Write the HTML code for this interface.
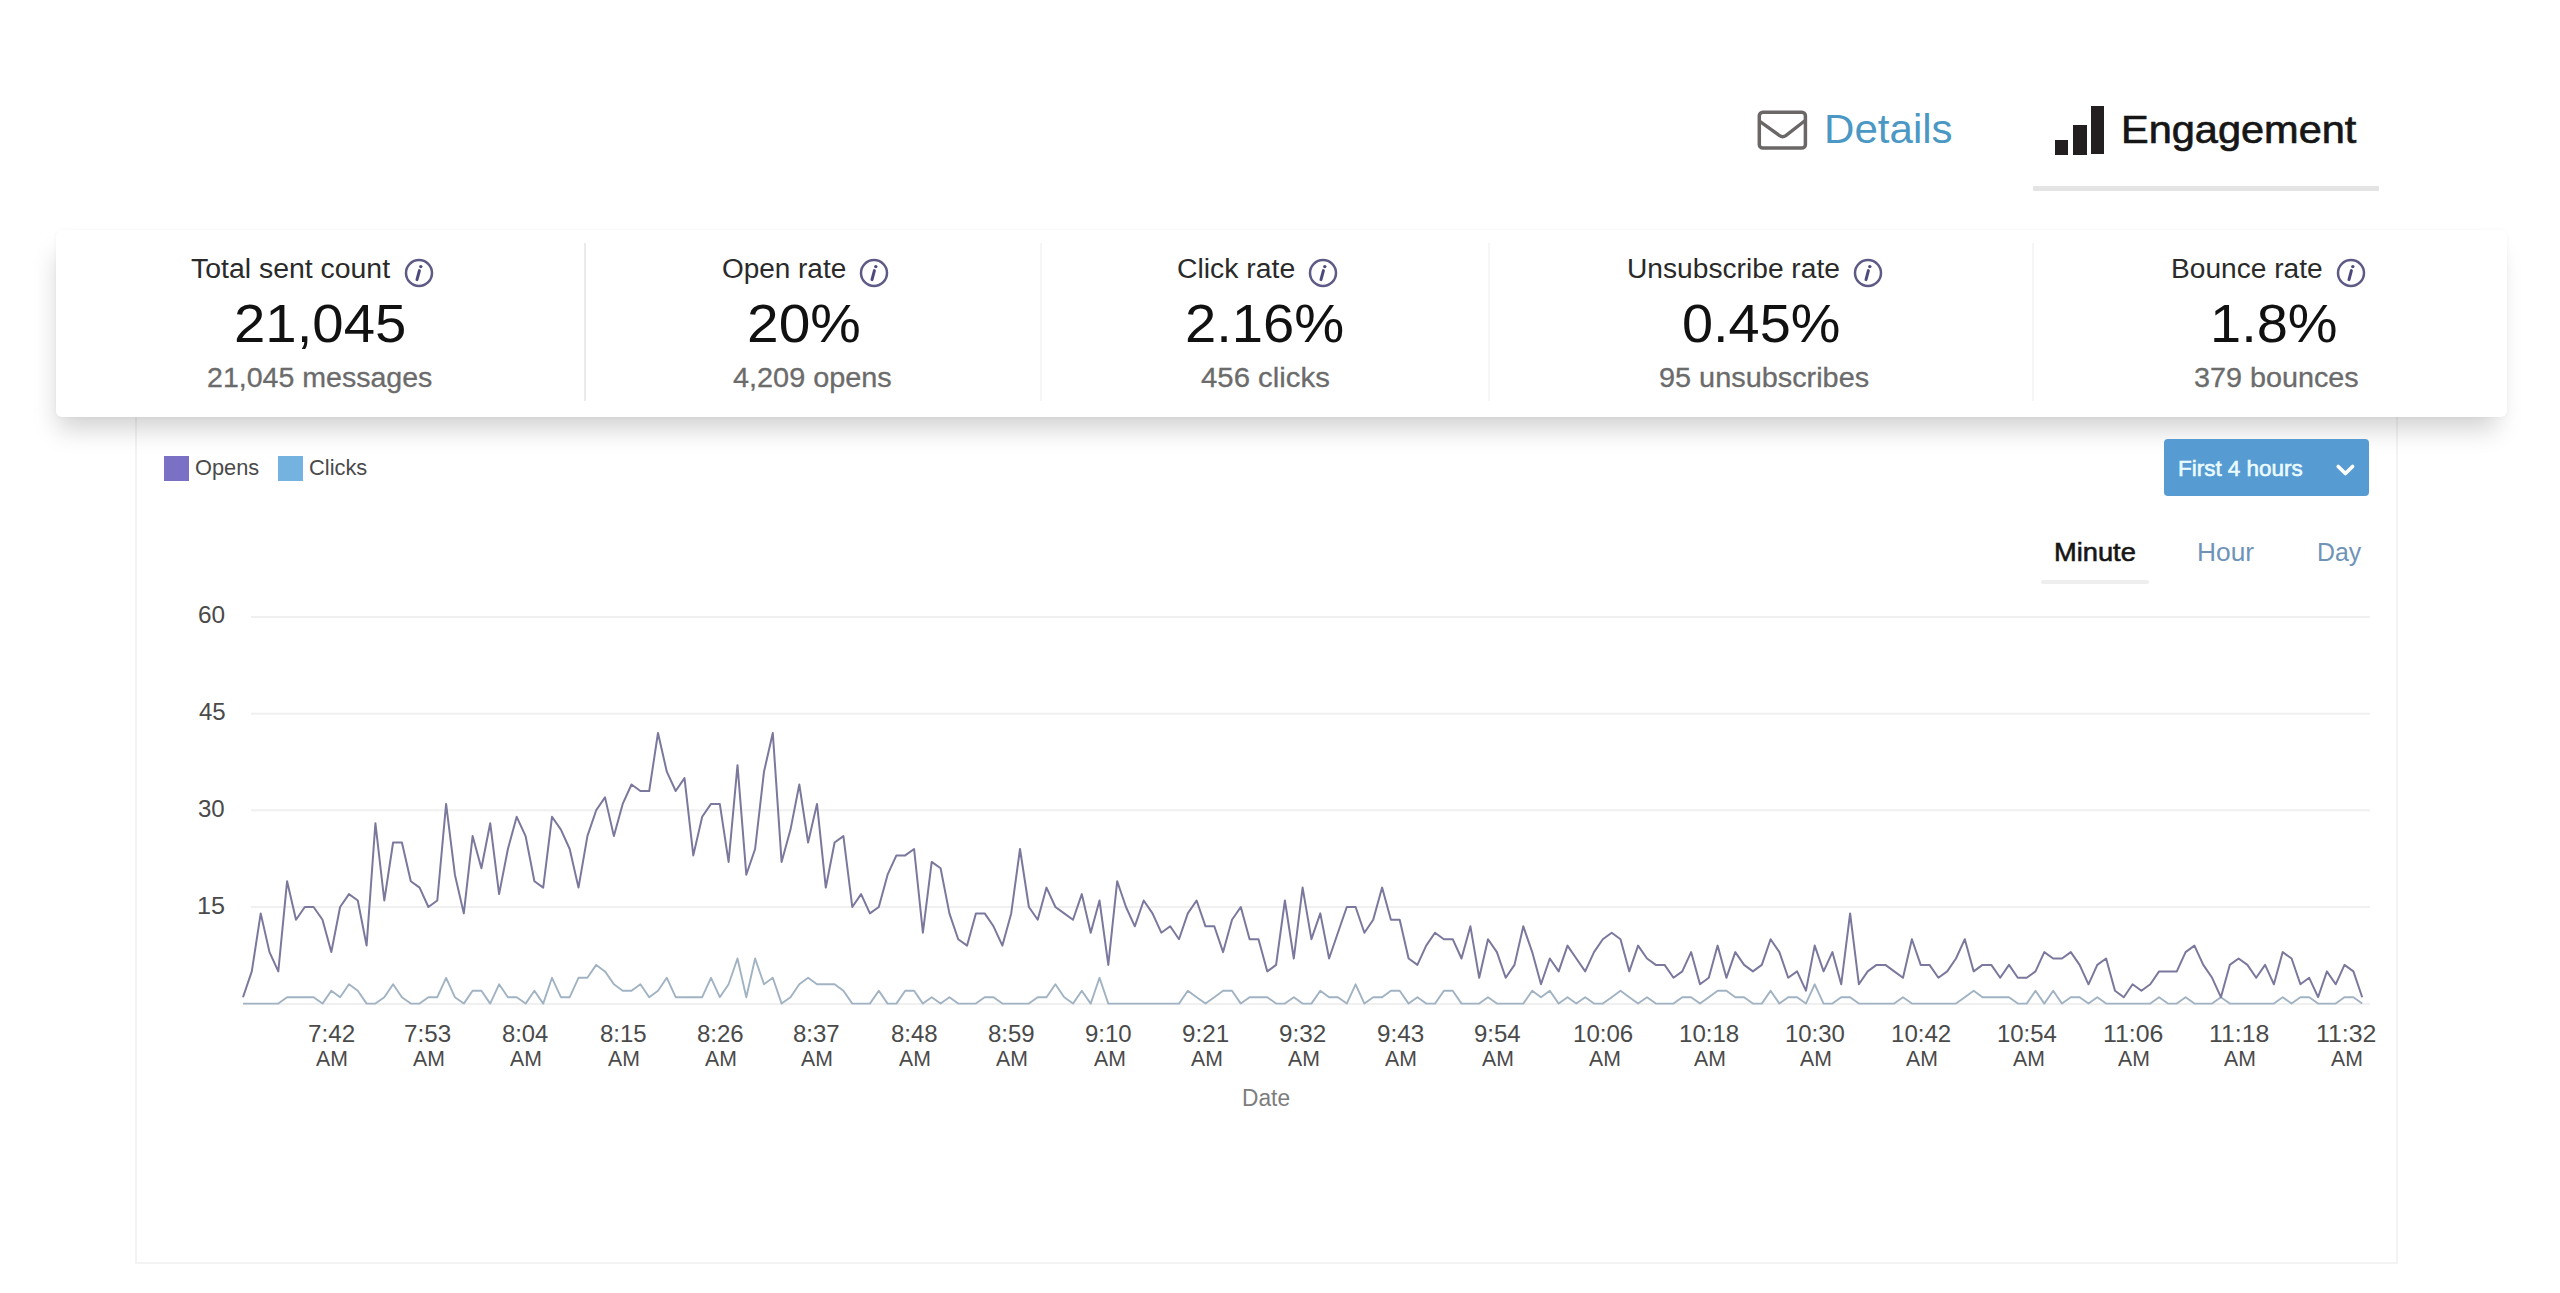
<!DOCTYPE html>
<html><head><meta charset="utf-8"><title>Engagement</title>
<style>
html,body{margin:0;padding:0;background:#fff;}
body{width:2560px;height:1293px;position:relative;overflow:hidden;font-family:"Liberation Sans",sans-serif;}
.tx{position:absolute;white-space:nowrap;transform-origin:0 0;font-family:"Liberation Sans",sans-serif;}
.abs{position:absolute;}
.panel{position:absolute;left:135px;top:380px;width:2259px;height:881.5px;border:2px solid #f3f3f3;border-top:none;background:#fff;box-sizing:content-box;}
.card{position:absolute;left:56px;top:230px;width:2451px;height:186.5px;background:#fff;border-radius:6px;box-shadow:-4px 18px 24px -6px rgba(0,0,0,0.18),0 0 5px rgba(0,0,0,0.04);}
.div{position:absolute;top:243px;width:2px;height:158px;background:#ececec;}
.sq{position:absolute;width:25px;height:25px;top:455.5px;}
.btn{position:absolute;left:2164px;top:439px;width:205px;height:57px;background:#579bd3;border-radius:4px;}
.chart{position:absolute;left:0;top:0;}

</style></head><body>
<div class="panel"></div>
<div class="card"></div>
<div class="div" style="left:583.5px;background:#ebebed"></div>
<div class="div" style="left:1040px;background:#f5f5f6"></div>
<div class="div" style="left:1488px;background:#f6f6f6"></div>
<div class="div" style="left:2032px;background:#f5f5f5"></div>
<!-- tabs -->
<svg class="abs" style="left:1750px;top:100px" width="70" height="60" viewBox="0 0 70 60">
<rect x="9.3" y="12.2" width="46.1" height="35.9" rx="3.6" fill="none" stroke="#6b6767" stroke-width="3.5"/>
<path d="M10.5 21.8 L29.6 35.6 Q32.7 37.8 35.8 35.6 L54.5 21" fill="none" stroke="#6b6767" stroke-width="3.3" stroke-linejoin="round" stroke-linecap="round"/>
</svg>
<div class="abs" style="left:2054.5px;top:140px;width:13.5px;height:14.5px;background:#231f20"></div>
<div class="abs" style="left:2072.5px;top:124.5px;width:14.5px;height:30px;background:#231f20"></div>
<div class="abs" style="left:2090.8px;top:106.3px;width:13.5px;height:48.2px;background:#231f20"></div>
<div class="abs" style="left:2033px;top:186px;width:346px;height:5px;background:#e4e4e4;border-radius:1px"></div>
<!-- info icons -->
<svg class="abs" style="left:402.9px;top:257px" width="32" height="32" viewBox="-16 -16 32 32"><circle cx="0" cy="0" r="13" fill="none" stroke="#5d5b85" stroke-width="2.5"/><circle cx="1.8" cy="-6.4" r="1.7" fill="#4c4a7c"/><path d="M0.4 -2.4 L-2 6.6" stroke="#4c4a7c" stroke-width="3" stroke-linecap="round" fill="none"/></svg>
<svg class="abs" style="left:858.4px;top:257px" width="32" height="32" viewBox="-16 -16 32 32"><circle cx="0" cy="0" r="13" fill="none" stroke="#5d5b85" stroke-width="2.5"/><circle cx="1.8" cy="-6.4" r="1.7" fill="#4c4a7c"/><path d="M0.4 -2.4 L-2 6.6" stroke="#4c4a7c" stroke-width="3" stroke-linecap="round" fill="none"/></svg>
<svg class="abs" style="left:1306.6px;top:257px" width="32" height="32" viewBox="-16 -16 32 32"><circle cx="0" cy="0" r="13" fill="none" stroke="#5d5b85" stroke-width="2.5"/><circle cx="1.8" cy="-6.4" r="1.7" fill="#4c4a7c"/><path d="M0.4 -2.4 L-2 6.6" stroke="#4c4a7c" stroke-width="3" stroke-linecap="round" fill="none"/></svg>
<svg class="abs" style="left:1851.5px;top:257px" width="32" height="32" viewBox="-16 -16 32 32"><circle cx="0" cy="0" r="13" fill="none" stroke="#5d5b85" stroke-width="2.5"/><circle cx="1.8" cy="-6.4" r="1.7" fill="#4c4a7c"/><path d="M0.4 -2.4 L-2 6.6" stroke="#4c4a7c" stroke-width="3" stroke-linecap="round" fill="none"/></svg>
<svg class="abs" style="left:2334.6px;top:257px" width="32" height="32" viewBox="-16 -16 32 32"><circle cx="0" cy="0" r="13" fill="none" stroke="#5d5b85" stroke-width="2.5"/><circle cx="1.8" cy="-6.4" r="1.7" fill="#4c4a7c"/><path d="M0.4 -2.4 L-2 6.6" stroke="#4c4a7c" stroke-width="3" stroke-linecap="round" fill="none"/></svg>
<!-- legend -->
<div class="sq" style="left:163.5px;background:#7a71c4"></div>
<div class="sq" style="left:278px;background:#74b3e0"></div>
<!-- button -->
<div class="btn"></div>
<svg class="abs" style="left:2330px;top:455px" width="30" height="30" viewBox="0 0 30 30"><path d="M8.2 11.4 L15.4 18.6 L22.6 11.4" fill="none" stroke="#fff" stroke-width="3.6" stroke-linecap="round" stroke-linejoin="round"/></svg>
<div class="abs" style="left:2041px;top:579.5px;width:108px;height:4px;background:#eeeeee;border-radius:2px"></div>
<svg class="chart" width="2560" height="1293" viewBox="0 0 2560 1293">
<g stroke="#f0f0f0" stroke-width="2" fill="none">
<line x1="251" x2="2370" y1="617" y2="617"/><line x1="251" x2="2370" y1="713.7" y2="713.7"/><line x1="251" x2="2370" y1="810.3" y2="810.3"/><line x1="251" x2="2370" y1="907" y2="907"/><line x1="243" x2="2370" y1="1004" y2="1004"/>
</g>
<polyline points="243.0,1003.6 251.8,1003.6 260.7,1003.6 269.5,1003.6 278.3,1003.6 287.1,997.2 296.0,997.2 304.8,997.2 313.6,997.2 322.5,1003.6 331.3,990.7 340.1,997.2 349.0,984.3 357.8,990.7 366.6,1003.6 375.4,1003.6 384.3,997.2 393.1,984.3 401.9,997.2 410.8,1003.6 419.6,1003.6 428.4,997.2 437.3,997.2 446.1,977.8 454.9,997.2 463.8,1003.6 472.6,990.7 481.4,990.7 490.2,1003.6 499.1,984.3 507.9,997.2 516.7,997.2 525.6,1003.6 534.4,990.7 543.2,1003.6 552.0,977.8 560.9,997.2 569.7,997.2 578.5,977.8 587.4,977.8 596.2,964.9 605.0,971.4 613.9,984.3 622.7,990.7 631.5,990.7 640.4,984.3 649.2,997.2 658.0,990.7 666.8,977.8 675.7,997.2 684.5,997.2 693.3,997.2 702.2,997.2 711.0,977.8 719.8,997.2 728.6,984.3 737.5,958.5 746.3,997.2 755.1,958.5 764.0,984.3 772.8,977.8 781.6,1003.6 790.5,997.2 799.3,984.3 808.1,977.8 817.0,984.3 825.8,984.3 834.6,984.3 843.4,990.7 852.3,1003.6 861.1,1003.6 869.9,1003.6 878.8,990.7 887.6,1003.6 896.4,1003.6 905.2,990.7 914.1,990.7 922.9,1003.6 931.7,997.2 940.6,1003.6 949.4,997.2 958.2,1003.6 967.1,1003.6 975.9,1003.6 984.7,997.2 993.5,997.2 1002.4,1003.6 1011.2,1003.6 1020.0,1003.6 1028.9,1003.6 1037.7,997.2 1046.5,997.2 1055.4,984.3 1064.2,997.2 1073.0,1003.6 1081.8,990.7 1090.7,1003.6 1099.5,977.8 1108.3,1003.6 1117.2,1003.6 1126.0,1003.6 1134.8,1003.6 1143.7,1003.6 1152.5,1003.6 1161.3,1003.6 1170.2,1003.6 1179.0,1003.6 1187.8,990.7 1196.6,997.2 1205.5,1003.6 1214.3,997.2 1223.1,990.7 1232.0,990.7 1240.8,1003.6 1249.6,997.2 1258.5,997.2 1267.3,997.2 1276.1,1003.6 1284.9,1003.6 1293.8,997.2 1302.6,1003.6 1311.4,1003.6 1320.3,990.7 1329.1,997.2 1337.9,997.2 1346.8,1003.6 1355.6,984.3 1364.4,1003.6 1373.2,997.2 1382.1,997.2 1390.9,990.7 1399.7,990.7 1408.6,1003.6 1417.4,997.2 1426.2,1003.6 1435.0,1003.6 1443.9,990.7 1452.7,990.7 1461.5,1003.6 1470.4,1003.6 1479.2,1003.6 1488.0,997.2 1496.9,1003.6 1505.7,1003.6 1514.5,1003.6 1523.3,1003.6 1532.2,990.7 1541.0,997.2 1549.8,990.7 1558.7,1003.6 1567.5,997.2 1576.3,1003.6 1585.2,997.2 1594.0,1003.6 1602.8,1003.6 1611.7,997.2 1620.5,990.7 1629.3,997.2 1638.1,1003.6 1647.0,997.2 1655.8,1003.6 1664.6,1003.6 1673.5,1003.6 1682.3,997.2 1691.1,997.2 1700.0,1003.6 1708.8,997.2 1717.6,990.7 1726.4,990.7 1735.3,997.2 1744.1,997.2 1752.9,1003.6 1761.8,1003.6 1770.6,990.7 1779.4,1003.6 1788.2,997.2 1797.1,997.2 1805.9,1003.6 1814.7,984.3 1823.6,1003.6 1832.4,1003.6 1841.2,997.2 1850.1,997.2 1858.9,1003.6 1867.7,1003.6 1876.5,1003.6 1885.4,1003.6 1894.2,1003.6 1903.0,997.2 1911.9,1003.6 1920.7,1003.6 1929.5,1003.6 1938.4,1003.6 1947.2,1003.6 1956.0,1003.6 1964.8,997.2 1973.7,990.7 1982.5,997.2 1991.3,997.2 2000.2,997.2 2009.0,997.2 2017.8,1003.6 2026.7,1003.6 2035.5,990.7 2044.3,1003.6 2053.2,990.7 2062.0,1003.6 2070.8,997.2 2079.6,997.2 2088.5,1003.6 2097.3,997.2 2106.1,1003.6 2115.0,1003.6 2123.8,1003.6 2132.6,1003.6 2141.4,1003.6 2150.3,1003.6 2159.1,997.2 2167.9,1003.6 2176.8,1003.6 2185.6,997.2 2194.4,1003.6 2203.3,1003.6 2212.1,1003.6 2220.9,997.2 2229.8,1003.6 2238.6,1003.6 2247.4,1003.6 2256.2,1003.6 2265.1,1003.6 2273.9,1003.6 2282.7,997.2 2291.6,1003.6 2300.4,997.2 2309.2,997.2 2318.1,1003.6 2326.9,1003.6 2335.7,1003.6 2344.5,997.2 2353.4,997.2 2362.2,1003.6" fill="none" stroke="#a1b3c3" stroke-width="1.9" stroke-linejoin="round"/>
<polyline points="243.0,997.2 251.8,971.4 260.7,913.4 269.5,952.1 278.3,971.4 287.1,881.2 296.0,919.8 304.8,907.0 313.6,907.0 322.5,919.8 331.3,952.1 340.1,907.0 349.0,894.1 357.8,900.5 366.6,945.6 375.4,823.2 384.3,900.5 393.1,842.5 401.9,842.5 410.8,881.2 419.6,887.6 428.4,907.0 437.3,900.5 446.1,803.9 454.9,874.7 463.8,913.4 472.6,836.1 481.4,868.3 490.2,823.2 499.1,894.1 507.9,849.0 516.7,816.8 525.6,836.1 534.4,881.2 543.2,887.6 552.0,816.8 560.9,829.6 569.7,849.0 578.5,887.6 587.4,836.1 596.2,810.3 605.0,797.4 613.9,836.1 622.7,803.9 631.5,784.5 640.4,791.0 649.2,791.0 658.0,733.0 666.8,771.7 675.7,791.0 684.5,778.1 693.3,855.4 702.2,816.8 711.0,803.9 719.8,803.9 728.6,861.9 737.5,765.2 746.3,874.7 755.1,849.0 764.0,771.7 772.8,733.0 781.6,861.9 790.5,829.6 799.3,784.5 808.1,842.5 817.0,803.9 825.8,887.6 834.6,842.5 843.4,836.1 852.3,907.0 861.1,894.1 869.9,913.4 878.8,907.0 887.6,874.7 896.4,855.4 905.2,855.4 914.1,849.0 922.9,932.7 931.7,861.9 940.6,868.3 949.4,913.4 958.2,939.2 967.1,945.6 975.9,913.4 984.7,913.4 993.5,926.3 1002.4,945.6 1011.2,913.4 1020.0,849.0 1028.9,907.0 1037.7,919.8 1046.5,887.6 1055.4,907.0 1064.2,913.4 1073.0,919.8 1081.8,894.1 1090.7,932.7 1099.5,900.5 1108.3,964.9 1117.2,881.2 1126.0,907.0 1134.8,926.3 1143.7,900.5 1152.5,913.4 1161.3,932.7 1170.2,926.3 1179.0,939.2 1187.8,913.4 1196.6,900.5 1205.5,926.3 1214.3,926.3 1223.1,952.1 1232.0,919.8 1240.8,907.0 1249.6,939.2 1258.5,939.2 1267.3,971.4 1276.1,964.9 1284.9,900.5 1293.8,958.5 1302.6,887.6 1311.4,939.2 1320.3,913.4 1329.1,958.5 1337.9,932.7 1346.8,907.0 1355.6,907.0 1364.4,932.7 1373.2,919.8 1382.1,887.6 1390.9,919.8 1399.7,919.8 1408.6,958.5 1417.4,964.9 1426.2,945.6 1435.0,932.7 1443.9,939.2 1452.7,939.2 1461.5,958.5 1470.4,926.3 1479.2,977.8 1488.0,939.2 1496.9,952.1 1505.7,977.8 1514.5,964.9 1523.3,926.3 1532.2,952.1 1541.0,984.3 1549.8,958.5 1558.7,971.4 1567.5,945.6 1576.3,958.5 1585.2,971.4 1594.0,952.1 1602.8,939.2 1611.7,932.7 1620.5,939.2 1629.3,971.4 1638.1,945.6 1647.0,958.5 1655.8,964.9 1664.6,964.9 1673.5,977.8 1682.3,971.4 1691.1,952.1 1700.0,984.3 1708.8,977.8 1717.6,945.6 1726.4,977.8 1735.3,952.1 1744.1,964.9 1752.9,971.4 1761.8,964.9 1770.6,939.2 1779.4,952.1 1788.2,977.8 1797.1,971.4 1805.9,990.7 1814.7,945.6 1823.6,971.4 1832.4,952.1 1841.2,984.3 1850.1,913.4 1858.9,984.3 1867.7,971.4 1876.5,964.9 1885.4,964.9 1894.2,971.4 1903.0,977.8 1911.9,939.2 1920.7,964.9 1929.5,964.9 1938.4,977.8 1947.2,971.4 1956.0,958.5 1964.8,939.2 1973.7,971.4 1982.5,964.9 1991.3,964.9 2000.2,977.8 2009.0,964.9 2017.8,977.8 2026.7,977.8 2035.5,971.4 2044.3,952.1 2053.2,958.5 2062.0,958.5 2070.8,952.1 2079.6,964.9 2088.5,984.3 2097.3,964.9 2106.1,958.5 2115.0,990.7 2123.8,997.2 2132.6,984.3 2141.4,990.7 2150.3,984.3 2159.1,971.4 2167.9,971.4 2176.8,971.4 2185.6,952.1 2194.4,945.6 2203.3,964.9 2212.1,977.8 2220.9,997.2 2229.8,964.9 2238.6,958.5 2247.4,964.9 2256.2,977.8 2265.1,964.9 2273.9,984.3 2282.7,952.1 2291.6,958.5 2300.4,984.3 2309.2,977.8 2318.1,997.2 2326.9,971.4 2335.7,984.3 2344.5,964.9 2353.4,971.4 2362.2,997.2" fill="none" stroke="#7a789c" stroke-width="2" stroke-linejoin="round"/>
</svg>
<div class="tx" style="left:1823.61px;top:109.38px;font-size:40.60px;line-height:40.60px;color:#4b98c4;font-weight:400;transform:scaleX(1.0370);">Details</div>
<div class="tx" style="left:2120.51px;top:110.34px;font-size:39.47px;line-height:39.47px;color:#161616;font-weight:400;transform:scaleX(1.0516);-webkit-text-stroke:0.7px #161616;">Engagement</div>
<div class="tx" style="left:190.81px;top:254.88px;font-size:28.02px;line-height:28.02px;color:#2a2a2a;font-weight:400;transform:scaleX(1.0145);">Total sent count</div>
<div class="tx" style="left:722.44px;top:254.88px;font-size:28.02px;line-height:28.02px;color:#2a2a2a;font-weight:400;transform:scaleX(0.9967);">Open rate</div>
<div class="tx" style="left:1177.42px;top:254.88px;font-size:28.02px;line-height:28.02px;color:#2a2a2a;font-weight:400;transform:scaleX(1.0126);">Click rate</div>
<div class="tx" style="left:1626.99px;top:254.88px;font-size:28.02px;line-height:28.02px;color:#2a2a2a;font-weight:400;transform:scaleX(1.0053);">Unsubscribe rate</div>
<div class="tx" style="left:2170.80px;top:254.88px;font-size:28.02px;line-height:28.02px;color:#2a2a2a;font-weight:400;transform:scaleX(1.0033);">Bounce rate</div>
<div class="tx" style="left:233.61px;top:296.85px;font-size:53.33px;line-height:53.33px;color:#111111;font-weight:400;transform:scaleX(1.0570);">21,045</div>
<div class="tx" style="left:747.33px;top:296.85px;font-size:53.33px;line-height:53.33px;color:#111111;font-weight:400;transform:scaleX(1.0667);">20%</div>
<div class="tx" style="left:1184.87px;top:296.85px;font-size:53.33px;line-height:53.33px;color:#111111;font-weight:400;transform:scaleX(1.0535);">2.16%</div>
<div class="tx" style="left:1682.00px;top:296.85px;font-size:53.33px;line-height:53.33px;color:#111111;font-weight:400;transform:scaleX(1.0475);">0.45%</div>
<div class="tx" style="left:2210.25px;top:296.85px;font-size:53.33px;line-height:53.33px;color:#111111;font-weight:400;transform:scaleX(1.0502);">1.8%</div>
<div class="tx" style="left:207.41px;top:363.64px;font-size:27.59px;line-height:27.59px;color:#6b6b6b;font-weight:400;transform:scaleX(1.0352);-webkit-text-stroke:0.3px #6b6b6b;">21,045 messages</div>
<div class="tx" style="left:733.30px;top:363.64px;font-size:27.59px;line-height:27.59px;color:#6b6b6b;font-weight:400;transform:scaleX(1.0459);-webkit-text-stroke:0.3px #6b6b6b;">4,209 opens</div>
<div class="tx" style="left:1200.79px;top:363.64px;font-size:27.59px;line-height:27.59px;color:#6b6b6b;font-weight:400;transform:scaleX(1.0638);-webkit-text-stroke:0.3px #6b6b6b;">456 clicks</div>
<div class="tx" style="left:1658.65px;top:363.64px;font-size:27.59px;line-height:27.59px;color:#6b6b6b;font-weight:400;transform:scaleX(1.0464);-webkit-text-stroke:0.3px #6b6b6b;">95 unsubscribes</div>
<div class="tx" style="left:2193.60px;top:363.64px;font-size:27.59px;line-height:27.59px;color:#6b6b6b;font-weight:400;transform:scaleX(1.0429);-webkit-text-stroke:0.3px #6b6b6b;">379 bounces</div>
<div class="tx" style="left:195.23px;top:457.54px;font-size:21.33px;line-height:21.33px;color:#4a4a4a;font-weight:400;transform:scaleX(1.0215);">Opens</div>
<div class="tx" style="left:308.97px;top:457.54px;font-size:21.33px;line-height:21.33px;color:#4a4a4a;font-weight:400;transform:scaleX(1.0250);">Clicks</div>
<div class="tx" style="left:2178.45px;top:457.12px;font-size:22.90px;line-height:22.90px;color:#eafbff;font-weight:400;transform:scaleX(0.9804);-webkit-text-stroke:0.6px #eafbff;">First 4 hours</div>
<div class="tx" style="left:2053.87px;top:540.39px;font-size:25.17px;line-height:25.17px;color:#161616;font-weight:400;transform:scaleX(1.0831);-webkit-text-stroke:0.6px #161616;">Minute</div>
<div class="tx" style="left:2196.94px;top:540.39px;font-size:25.17px;line-height:25.17px;color:#6f93b8;font-weight:400;transform:scaleX(1.0482);">Hour</div>
<div class="tx" style="left:2316.66px;top:540.39px;font-size:25.17px;line-height:25.17px;color:#6f93b8;font-weight:400;transform:scaleX(0.9860);">Day</div>
<div class="tx" style="left:197.76px;top:604.46px;font-size:23.32px;line-height:23.32px;color:#4a4a4a;font-weight:400;transform:scaleX(1.0466);">60</div>
<div class="tx" style="left:198.52px;top:701.36px;font-size:23.32px;line-height:23.32px;color:#4a4a4a;font-weight:400;transform:scaleX(1.0311);">45</div>
<div class="tx" style="left:198.15px;top:797.96px;font-size:23.32px;line-height:23.32px;color:#4a4a4a;font-weight:400;transform:scaleX(1.0311);">30</div>
<div class="tx" style="left:197.33px;top:894.66px;font-size:23.32px;line-height:23.32px;color:#4a4a4a;font-weight:400;transform:scaleX(1.0790);">15</div>
<div class="tx" style="left:1241.62px;top:1086.98px;font-size:23.18px;line-height:23.18px;color:#7d7d7d;font-weight:400;transform:scaleX(0.9812);">Date</div>
<div class="tx" style="left:307.57px;top:1023.00px;font-size:23.04px;line-height:23.04px;color:#4a4a4a;font-weight:400;transform:scaleX(1.0507);">7:42</div>
<div class="tx" style="left:316.00px;top:1046.82px;font-size:22.90px;line-height:22.90px;color:#4a4a4a;font-weight:400;transform:scaleX(0.9267);">AM</div>
<div class="tx" style="left:404.47px;top:1023.00px;font-size:23.04px;line-height:23.04px;color:#4a4a4a;font-weight:400;transform:scaleX(1.0507);">7:53</div>
<div class="tx" style="left:412.90px;top:1046.82px;font-size:22.90px;line-height:22.90px;color:#4a4a4a;font-weight:400;transform:scaleX(0.9267);">AM</div>
<div class="tx" style="left:502.16px;top:1023.00px;font-size:23.04px;line-height:23.04px;color:#4a4a4a;font-weight:400;transform:scaleX(1.0333);">8:04</div>
<div class="tx" style="left:510.20px;top:1046.82px;font-size:22.90px;line-height:22.90px;color:#4a4a4a;font-weight:400;transform:scaleX(0.9267);">AM</div>
<div class="tx" style="left:599.65px;top:1023.00px;font-size:23.04px;line-height:23.04px;color:#4a4a4a;font-weight:400;transform:scaleX(1.0419);">8:15</div>
<div class="tx" style="left:607.70px;top:1046.82px;font-size:22.90px;line-height:22.90px;color:#4a4a4a;font-weight:400;transform:scaleX(0.9267);">AM</div>
<div class="tx" style="left:696.50px;top:1023.00px;font-size:23.04px;line-height:23.04px;color:#4a4a4a;font-weight:400;transform:scaleX(1.0419);">8:26</div>
<div class="tx" style="left:704.55px;top:1046.82px;font-size:22.90px;line-height:22.90px;color:#4a4a4a;font-weight:400;transform:scaleX(0.9267);">AM</div>
<div class="tx" style="left:793.00px;top:1023.00px;font-size:23.04px;line-height:23.04px;color:#4a4a4a;font-weight:400;transform:scaleX(1.0419);">8:37</div>
<div class="tx" style="left:801.05px;top:1046.82px;font-size:22.90px;line-height:22.90px;color:#4a4a4a;font-weight:400;transform:scaleX(0.9267);">AM</div>
<div class="tx" style="left:891.15px;top:1023.00px;font-size:23.04px;line-height:23.04px;color:#4a4a4a;font-weight:400;transform:scaleX(1.0419);">8:48</div>
<div class="tx" style="left:899.20px;top:1046.82px;font-size:22.90px;line-height:22.90px;color:#4a4a4a;font-weight:400;transform:scaleX(0.9267);">AM</div>
<div class="tx" style="left:988.25px;top:1023.00px;font-size:23.04px;line-height:23.04px;color:#4a4a4a;font-weight:400;transform:scaleX(1.0419);">8:59</div>
<div class="tx" style="left:996.30px;top:1046.82px;font-size:22.90px;line-height:22.90px;color:#4a4a4a;font-weight:400;transform:scaleX(0.9267);">AM</div>
<div class="tx" style="left:1085.37px;top:1023.00px;font-size:23.04px;line-height:23.04px;color:#4a4a4a;font-weight:400;transform:scaleX(1.0419);">9:10</div>
<div class="tx" style="left:1093.80px;top:1046.82px;font-size:22.90px;line-height:22.90px;color:#4a4a4a;font-weight:400;transform:scaleX(0.9267);">AM</div>
<div class="tx" style="left:1182.37px;top:1023.00px;font-size:23.04px;line-height:23.04px;color:#4a4a4a;font-weight:400;transform:scaleX(1.0507);">9:21</div>
<div class="tx" style="left:1190.80px;top:1046.82px;font-size:22.90px;line-height:22.90px;color:#4a4a4a;font-weight:400;transform:scaleX(0.9267);">AM</div>
<div class="tx" style="left:1279.47px;top:1023.00px;font-size:23.04px;line-height:23.04px;color:#4a4a4a;font-weight:400;transform:scaleX(1.0507);">9:32</div>
<div class="tx" style="left:1287.90px;top:1046.82px;font-size:22.90px;line-height:22.90px;color:#4a4a4a;font-weight:400;transform:scaleX(0.9267);">AM</div>
<div class="tx" style="left:1376.62px;top:1023.00px;font-size:23.04px;line-height:23.04px;color:#4a4a4a;font-weight:400;transform:scaleX(1.0507);">9:43</div>
<div class="tx" style="left:1385.05px;top:1046.82px;font-size:22.90px;line-height:22.90px;color:#4a4a4a;font-weight:400;transform:scaleX(0.9267);">AM</div>
<div class="tx" style="left:1473.87px;top:1023.00px;font-size:23.04px;line-height:23.04px;color:#4a4a4a;font-weight:400;transform:scaleX(1.0419);">9:54</div>
<div class="tx" style="left:1482.30px;top:1046.82px;font-size:22.90px;line-height:22.90px;color:#4a4a4a;font-weight:400;transform:scaleX(0.9267);">AM</div>
<div class="tx" style="left:1573.34px;top:1023.00px;font-size:23.04px;line-height:23.04px;color:#4a4a4a;font-weight:400;transform:scaleX(1.0455);">10:06</div>
<div class="tx" style="left:1588.55px;top:1046.82px;font-size:22.90px;line-height:22.90px;color:#4a4a4a;font-weight:400;transform:scaleX(0.9267);">AM</div>
<div class="tx" style="left:1678.99px;top:1023.00px;font-size:23.04px;line-height:23.04px;color:#4a4a4a;font-weight:400;transform:scaleX(1.0455);">10:18</div>
<div class="tx" style="left:1694.20px;top:1046.82px;font-size:22.90px;line-height:22.90px;color:#4a4a4a;font-weight:400;transform:scaleX(0.9267);">AM</div>
<div class="tx" style="left:1785.00px;top:1023.00px;font-size:23.04px;line-height:23.04px;color:#4a4a4a;font-weight:400;transform:scaleX(1.0388);">10:30</div>
<div class="tx" style="left:1800.20px;top:1046.82px;font-size:22.90px;line-height:22.90px;color:#4a4a4a;font-weight:400;transform:scaleX(0.9267);">AM</div>
<div class="tx" style="left:1890.84px;top:1023.00px;font-size:23.04px;line-height:23.04px;color:#4a4a4a;font-weight:400;transform:scaleX(1.0455);">10:42</div>
<div class="tx" style="left:1906.05px;top:1046.82px;font-size:22.90px;line-height:22.90px;color:#4a4a4a;font-weight:400;transform:scaleX(0.9267);">AM</div>
<div class="tx" style="left:1997.40px;top:1023.00px;font-size:23.04px;line-height:23.04px;color:#4a4a4a;font-weight:400;transform:scaleX(1.0388);">10:54</div>
<div class="tx" style="left:2012.60px;top:1046.82px;font-size:22.90px;line-height:22.90px;color:#4a4a4a;font-weight:400;transform:scaleX(0.9267);">AM</div>
<div class="tx" style="left:2102.95px;top:1023.00px;font-size:23.04px;line-height:23.04px;color:#4a4a4a;font-weight:400;transform:scaleX(1.0789);">11:06</div>
<div class="tx" style="left:2118.20px;top:1046.82px;font-size:22.90px;line-height:22.90px;color:#4a4a4a;font-weight:400;transform:scaleX(0.9267);">AM</div>
<div class="tx" style="left:2208.95px;top:1023.00px;font-size:23.04px;line-height:23.04px;color:#4a4a4a;font-weight:400;transform:scaleX(1.0789);">11:18</div>
<div class="tx" style="left:2224.20px;top:1046.82px;font-size:22.90px;line-height:22.90px;color:#4a4a4a;font-weight:400;transform:scaleX(0.9267);">AM</div>
<div class="tx" style="left:2316.05px;top:1023.00px;font-size:23.04px;line-height:23.04px;color:#4a4a4a;font-weight:400;transform:scaleX(1.0789);">11:32</div>
<div class="tx" style="left:2331.30px;top:1046.82px;font-size:22.90px;line-height:22.90px;color:#4a4a4a;font-weight:400;transform:scaleX(0.9267);">AM</div>

</body></html>
